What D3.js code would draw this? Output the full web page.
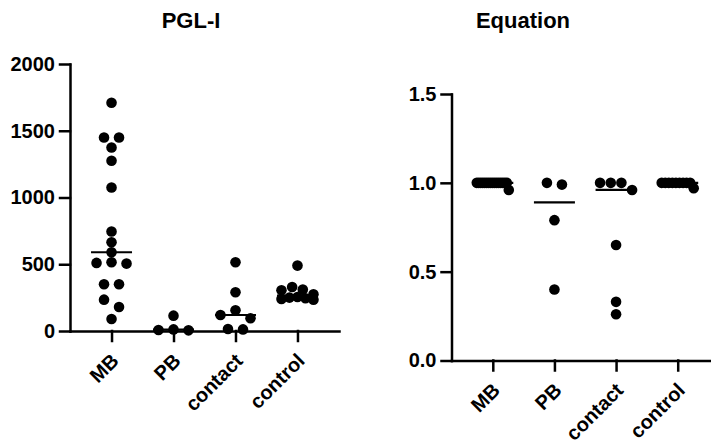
<!DOCTYPE html>
<html>
<head>
<meta charset="utf-8">
<script src="https://cdn.jsdelivr.net/npm/d3@7"></script>
<style>
body { margin: 0; background: #fff; }
text { font-family: "Liberation Sans", Arial, sans-serif; font-weight: bold; fill: #000; }
.axis path, .axis line { stroke: #000; stroke-width: 2.5; stroke-linecap: square; }
</style>
</head>
<body>
<div id="chart"></div>
<script>
var width = 711,
    height = 440;

// categories and tick labels
var categories = ["MB", "PB", "contact", "control"];
var pglTicks = [0, 500, 1000, 1500, 2000];
var eqTicks = [0, 0.5, 1.0, 1.5];

// PGL-I values per group
var pglMB = [1710, 1450, 1450, 1375, 1275, 1075, 745, 665, 590, 515, 510, 505, 350, 350, 235, 180, 90];
var pglPB = [115, 12, 8, 5];
var pglContact = [515, 290, 155, 120, 95, 15, 12];
var pglControl = [490, 330, 310, 305, 275, 255, 250, 245, 240, 235];

// Equation values per group
var eqMB = [1, 1, 1, 1, 1, 1, 1, 1, 1, 1, 1, 1, 1, 1, 1, 1, 0.96];
var eqPB = [1.0, 0.99, 0.79, 0.40];
var eqContact = [1.0, 1.0, 1.0, 0.96, 0.65, 0.33, 0.26];
var eqControl = [1, 1, 1, 1, 1, 1, 1, 1, 1, 0.97];

var svg = d3.select("#chart").append("svg")
    .attr("width", width)
    .attr("height", height);

// rows of near-equal values are spread sideways, centre first
function swarm(values, y, cx) {
    var step = 15, maxHalf = 16, rowH = 9.5;
    var pts = values.map(function(v) { return {v: v, y: y(v)}; })
        .sort(function(a, b) { return a.y - b.y; });
    var rows = [], cur = null;
    pts.forEach(function(p) {
        if (cur && p.y - cur[0].y < rowH) cur.push(p);
        else { cur = [p]; rows.push(cur); }
    });
    rows.forEach(function(row) {
        var n = row.length,
            s = n > 1 ? Math.min(step, 2 * maxHalf / (n - 1)) : 0;
        var slots = d3.range(n).map(function(i) { return (i - (n - 1) / 2) * s; })
            .sort(function(a, b) { return Math.abs(a) - Math.abs(b) || a - b; });
        row.forEach(function(p, i) { p.x = cx + slots[i]; });
    });
    return pts;
}

function panel(cfg) {
    var g = svg.append("g");

    var x = d3.scalePoint()
        .domain(categories)
        .range(cfg.xRange)
        .padding(0.67);

    var y = d3.scaleLinear()
        .domain(d3.extent(cfg.ticks))
        .range(cfg.yRange);

    g.append("text")
        .attr("x", cfg.titleX)
        .attr("y", 28)
        .attr("text-anchor", "middle")
        .style("font-size", "22px")
        .text(cfg.title);

    var yAxis = g.append("g")
        .attr("class", "axis")
        .attr("transform", "translate(" + cfg.xRange[0] + ",0)")
        .call(d3.axisLeft(y).tickValues(cfg.ticks).tickFormat(cfg.fmt)
            .tickSize(10).tickSizeOuter(0).tickPadding(5));
    yAxis.selectAll("text").style("font-size", "20px").style("font-family", null);

    var xAxis = g.append("g")
        .attr("class", "axis")
        .attr("transform", "translate(0," + cfg.yRange[0] + ")")
        .call(d3.axisBottom(x).tickSize(10).tickSizeOuter(0));
    xAxis.selectAll("text")
        .style("font-size", "20px")
        .attr("text-anchor", "end")
        .attr("x", 0).attr("y", 0).attr("dy", null)
        .attr("transform", "translate(8,31) rotate(-45)");

    cfg.groups.forEach(function(vals, i) {
        var cx = x(categories[i]);
        var pts = swarm(vals, y, cx);
        g.selectAll(".dot" + i)
            .data(pts)
            .enter().append("circle")
            .attr("cx", function(d) { return d.x; })
            .attr("cy", function(d) { return d.y; })
            .attr("r", 5.3)
            .attr("fill", "#000");
        var med = d3.median(vals);
        g.append("line")
            .attr("x1", cx - 20.5).attr("x2", cx + 20.5)
            .attr("y1", y(med)).attr("y2", y(med))
            .style("stroke", "#000")
            .style("stroke-width", 2.2);
    });
}

panel({
    title: "PGL-I", titleX: 191,
    xRange: [70, 339], yRange: [331, 64],
    ticks: pglTicks, fmt: d3.format("d"),
    groups: [pglMB, pglPB, pglContact, pglControl]
});

panel({
    title: "Equation", titleX: 523,
    xRange: [451.5, 719], yRange: [360.5, 94],
    ticks: eqTicks, fmt: d3.format(".1f"),
    groups: [eqMB, eqPB, eqContact, eqControl]
});
</script>
</body>
</html>
